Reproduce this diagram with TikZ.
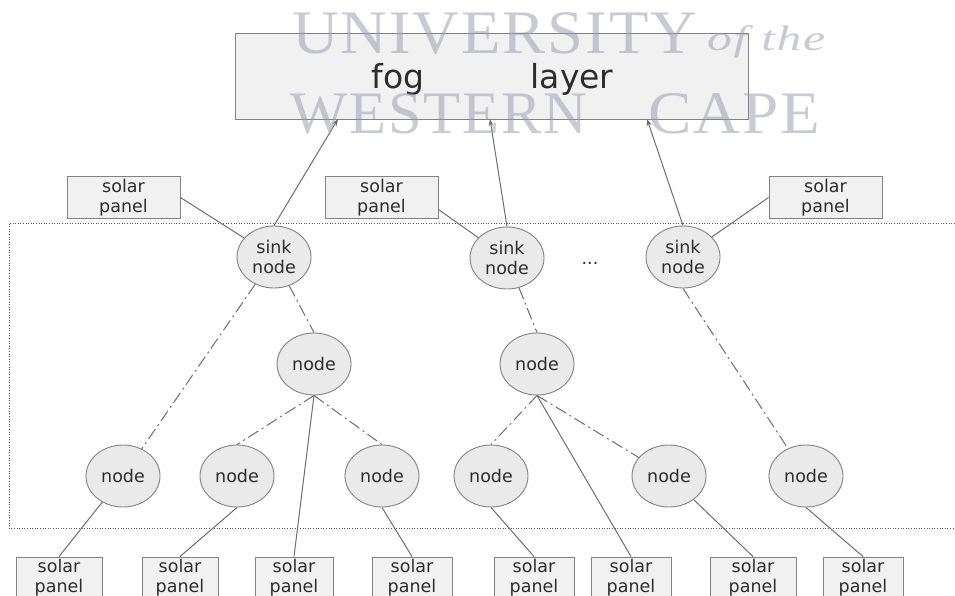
\documentclass[tikz,border=0pt]{standalone}
\usepackage{fontspec}
\setmainfont{DejaVu Sans}
\newfontfamily\wmfont[LetterSpace=3]{Liberation Serif}
\usetikzlibrary{shapes.geometric,arrows.meta}

\definecolor{boxline}{RGB}{130,130,130}
\definecolor{boxfill}{RGB}{241,241,241}
\definecolor{motefill}{RGB}{234,234,234}
\definecolor{linec}{RGB}{110,110,110}
\definecolor{txt}{RGB}{45,45,45}
\definecolor{framec}{RGB}{90,90,90}
\definecolor{wmcol}{RGB}{150,150,172}

\newcommand{\wmword}[3]{\resizebox{#1}{#2}{\wmfont #3}}

\begin{document}
\begin{tikzpicture}[x=1pt,y=-1pt,
  lbl/.style={font=\fontsize{17.5}{20}\selectfont, text=txt, align=center},
  panel/.style={lbl, draw=boxline, fill=boxfill, rectangle, line width=0.9pt,
    minimum width=#1, minimum height=42pt, inner sep=0pt},
  mote/.style={lbl, draw=boxline, fill=motefill, ellipse, line width=0.9pt,
    minimum width=74pt, minimum height=62pt, inner sep=0pt},
  link/.style={draw=linec, line width=1pt},
  dd/.style={link, dash pattern=on 12pt off 4pt on 2pt off 4pt},
  up/.style={link, -{Stealth[length=7pt,width=5pt]}},
  wm/.style={text=wmcol, text opacity=0.5, inner sep=0pt, anchor=base west}
]
\clip (0,0) rectangle (955,595);
\fill[white] (0,0) rectangle (955,595);

% network area (open on the right)
\draw[framec, line width=0.8pt, dash pattern=on 1pt off 1.6pt]
  (960,223) -- (9,223) -- (9,528) -- (960,528);

% fog layer
\node[draw=boxline, fill=boxfill, line width=0.9pt, minimum width=513pt,
  minimum height=86pt, inner sep=0pt] (fog) at (491.5,76) {};
\node[anchor=base, text=txt, font=\fontsize{33}{40}\selectfont, inner sep=0pt]
  (fogw) at (398,88) {fog};
\node[anchor=base, text=txt, font=\fontsize{33}{40}\selectfont, inner sep=0pt]
  (layw) at (572,88) {layer};
\coordinate (in1) at (338,119);
\coordinate (in2) at (490,119);
\coordinate (in3) at (647,119);

% upper solar panels
\node[panel=113pt] (sp1) at (123.5,197.5) {solar\\panel};
\node[panel=113pt] (sp2) at (381.5,197.5) {solar\\panel};
\node[panel=113pt] (sp3) at (825.5,197.5) {solar\\panel};

% sink nodes
\node[mote] (s1) at (274,257) {sink\\node};
\node[mote] (s2) at (507,258) {sink\\node};
\node[mote] (s3) at (683,257) {sink\\node};
\node[lbl, anchor=base, inner sep=0pt] (more) at (590,264) {...};

% intermediate nodes
\node[mote] (a) at (314,364) {node};
\node[mote] (c) at (537,364) {node};

% leaf nodes
\node[mote] (b1) at (123,476) {node};
\node[mote] (b2) at (237,476) {node};
\node[mote] (b3) at (382,476) {node};
\node[mote] (d1) at (491,476) {node};
\node[mote] (d2) at (669,476) {node};
\node[mote] (d3) at (806,476) {node};

% lower solar panels
\node[panel=86pt] (bp1) at (59,578) {solar\\panel};
\node[panel=76pt] (bp2) at (180,578) {solar\\panel};
\node[panel=78pt] (bp3) at (294,578) {solar\\panel};
\node[panel=80pt] (bp4) at (412,578) {solar\\panel};
\node[panel=80pt] (bp5) at (534,578) {solar\\panel};
\node[panel=80pt] (bp6) at (631,578) {solar\\panel};
\node[panel=86pt] (bp7) at (753,578) {solar\\panel};
\node[panel=80pt] (bp8) at (863,578) {solar\\panel};

% uplinks to the fog layer
\draw[up] (s1.north) -- (in1);
\draw[up] (s2.north) -- (in2);
\draw[up] (s3.north) -- (in3);

% power for the sink nodes
\draw[link] (sp1.east) -- (s1);
\draw[link] ([yshift=-12pt]sp2.east) -- (s2);
\draw[link] (sp3.west) -- (s3);

% wireless links
\draw[dd] (s1) -- (b1);
\draw[dd] (s1) -- (a.north);
\draw[dd] (a.south) -- (b2.north);
\draw[dd] (a.south) -- (b3.north);
\draw[dd] (s2) -- (c.north);
\draw[dd] (c.south) -- (d1.north);
\draw[dd] (c.south) -- (d2);
\draw[dd] (s3.south) -- (d3);

% power for the other nodes
\draw[link] (b1) -- (bp1.north);
\draw[link] (b2.south) -- (bp2.north);
\draw[link] (a.south) -- (bp3.north);
\draw[link] (b3.south) -- (bp4.north);
\draw[link] (d1.south) -- (bp5.north);
\draw[link] (c.south) -- (bp6.north);
\draw[link] (d2) -- (bp7.north);
\draw[link] (d3.south) -- (bp8.north);

% watermark
\node[wm] (wm1) at (292,53) {\wmword{405pt}{41pt}{UNIVERSITY}};
\node[wm] (wm2) at (707,50) {\wmword{118pt}{25pt}{\itshape of the}};
\node[wm] (wm3) at (290,133) {\wmword{297pt}{40pt}{WESTERN}};
\node[wm] (wm4) at (648,133) {\wmword{172pt}{40pt}{CAPE}};
\end{tikzpicture}
\end{document}
